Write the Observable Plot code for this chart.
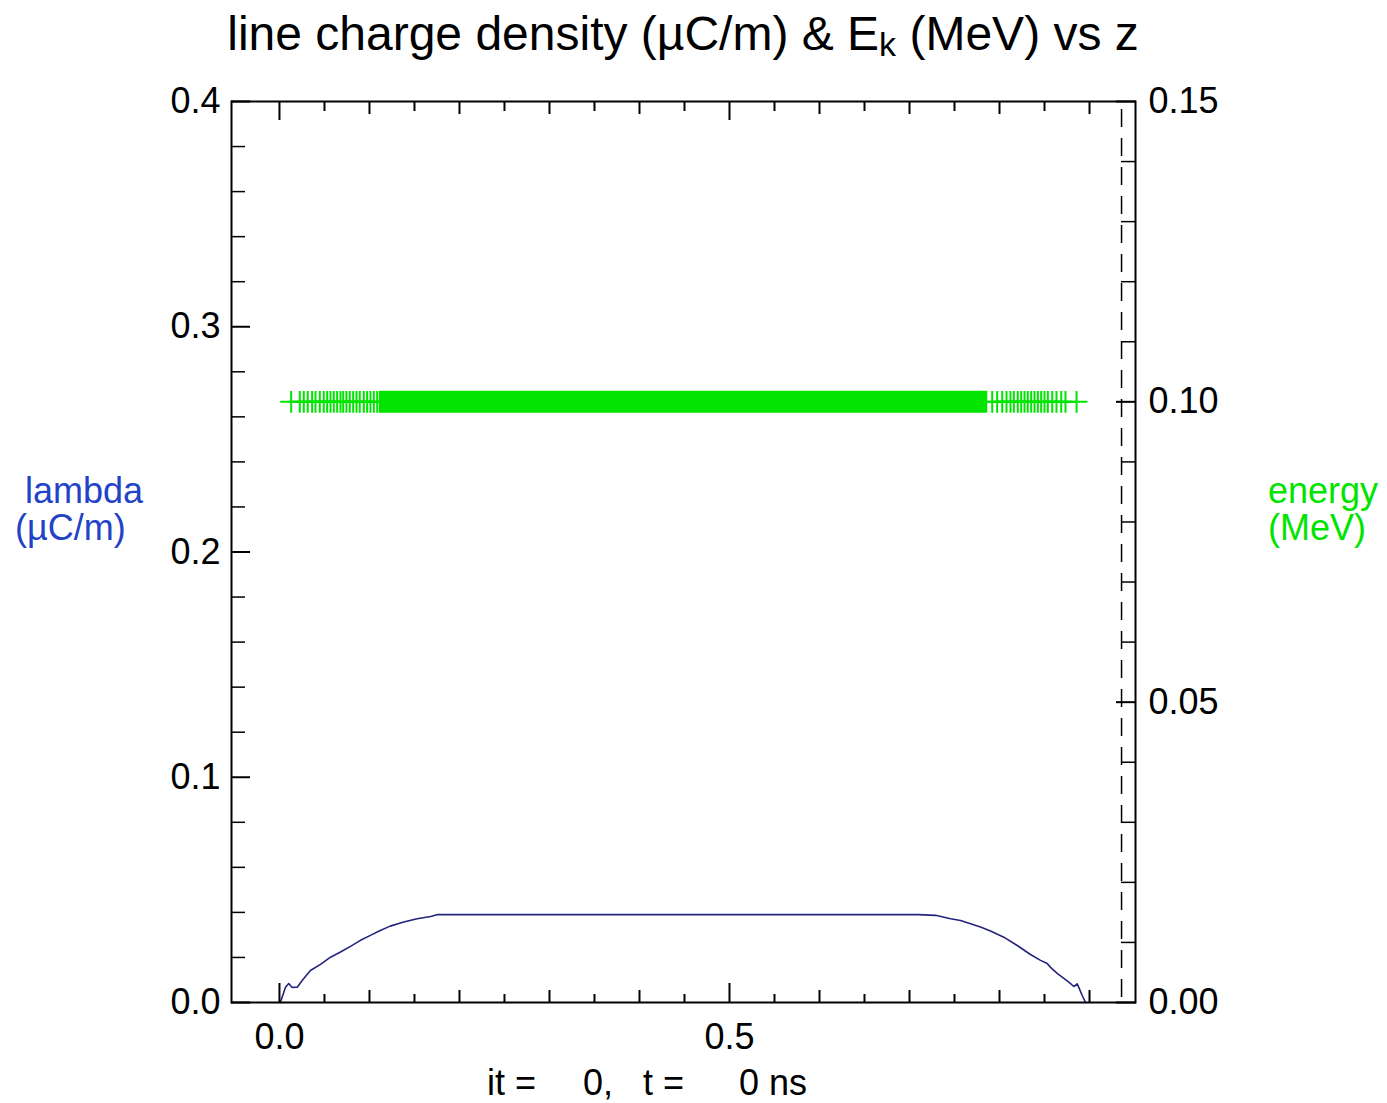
<!DOCTYPE html>
<html>
<head>
<meta charset="utf-8">
<script src="https://cdn.jsdelivr.net/npm/d3@7"></script>
<script src="https://cdn.jsdelivr.net/npm/@observablehq/plot@0.6"></script>
<style>
  html, body { margin: 0; padding: 0; background: #fff; }
  #chart { width: 1387px; height: 1103px; }
  #chart svg { overflow: visible; }
</style>
</head>
<body>
<div id="chart"></div>
<script>
// Line charge density of the beam along z (µC/m)
const lambdaZ = [0.001, 0.0067, 0.0103, 0.0141, 0.0197, 0.0252, 0.0344, 0.0456, 0.0567, 0.0678,
  0.0789, 0.090, 0.101, 0.112, 0.123, 0.138, 0.153, 0.168, 0.175, 0.71,
  0.729, 0.7456, 0.7567, 0.7789, 0.79, 0.8048, 0.8197, 0.8344, 0.8456, 0.853,
  0.8567, 0.8641, 0.8715, 0.877, 0.8826, 0.8863, 0.8881, 0.8919, 0.8956];
const lambdaVal = [0, 0.0068, 0.0084, 0.0067, 0.0068, 0.0098, 0.0142, 0.0169, 0.0201, 0.0224,
  0.0249, 0.0276, 0.0298, 0.032, 0.0339, 0.0357, 0.0372, 0.0382, 0.039, 0.039,
  0.0387, 0.0372, 0.0364, 0.0335, 0.0317, 0.029, 0.0253, 0.0213, 0.0187, 0.0173,
  0.0156, 0.0129, 0.0107, 0.009, 0.0071, 0.0083, 0.0067, 0.0031, 0];

// Macro-particle z positions in the sparse head and tail of the bunch
const particleZ = [0.0130, 0.0226, 0.0270, 0.0314, 0.0363, 0.0400, 0.0448, 0.0492, 0.0530, 0.0567,
  0.0603, 0.0641, 0.0678, 0.0708, 0.0744, 0.0781, 0.0819, 0.0856, 0.0892, 0.0937,
  0.0974, 0.1011, 0.1048, 0.1086,
  0.7919, 0.7974, 0.8030, 0.8078, 0.8122, 0.8159, 0.8203, 0.8241, 0.8278, 0.8314,
  0.8352, 0.8389, 0.8426, 0.8463, 0.8500, 0.8537, 0.8586, 0.8633, 0.8686, 0.8733, 0.8856];
// Dense core of the bunch, where the markers merge into a solid band
const coreZ = [0.111, 0.787];
// Kinetic energy of every particle (MeV)
const particleEnergy = 0.10;

const wallZ = 0.9356;
const zDomain = [-0.0533, 0.9511];
const lambdaDomain = [0, 0.4];
const energyDomain = [0, 0.15];
const lambdaTicks = [0.0, 0.1, 0.2, 0.3, 0.4];
const energyTicks = [0.00, 0.05, 0.10, 0.15];
const zTicks = [0.0, 0.5];
const stepIt = 0, stepT = 0;

// energy is drawn against the lambda scale; the right axis undoes the factor
const k = lambdaDomain[1] / energyDomain[1];

const green = "#00e400";
const navy = "#24247e";
const font = "'Liberation Sans', Arial, Helvetica, sans-serif";

const particles = particleZ.map(z => ({z, e: particleEnergy * k}));
const core = [{z1: coreZ[0], z2: coreZ[1], e: particleEnergy * k}];
const lambdaData = lambdaZ.map((z, i) => ({z, lambda: lambdaVal[i]}));

const lambdaMinor = d3.range(0, 0.4001, 0.02).filter(v => Math.abs(v * 10 - Math.round(v * 10)) > 1e-6);
const energyMinor = d3.range(0, 0.1501, 0.01).filter(v => Math.abs(v * 20 - Math.round(v * 20)) > 1e-6).map(v => v * k);
const zMedium = [0.1, 0.2, 0.3, 0.4, 0.6, 0.7, 0.8, 0.9];
const zShort = d3.range(0.05, 0.9, 0.1);

const tickAxis = (Axis, values, anchor, size, sw) =>
  Axis(values, {anchor, tickSize: -size, fill: "none", label: null, strokeWidth: sw, stroke: "#000"});

const plot = Plot.plot({
  width: 1387,
  height: 1103,
  marginLeft: 231,
  marginRight: 252,
  marginTop: 101,
  marginBottom: 101,
  style: {fontFamily: font, fontSize: "36px", color: "#000", background: "#fff"},
  x: {domain: zDomain},
  y: {domain: lambdaDomain},
  marks: [
    Plot.ruleX([wallZ], {stroke: "#000", strokeWidth: 1.5, strokeDasharray: "18,11", strokeDashoffset: -8}),
    Plot.line(lambdaData, {x: "z", y: "lambda", stroke: navy, strokeWidth: 1.6}),
    Plot.ruleY(core, {y: "e", x1: "z1", x2: "z2", stroke: green, strokeWidth: 22}),
    Plot.dot(particles, {x: "z", y: "e", symbol: "plus", r: 7.1, stroke: green, strokeWidth: 2}),
    Plot.frame({stroke: "#000", strokeWidth: 2}),
    // left axis: lambda
    Plot.axisY(lambdaTicks, {anchor: "left", tickSize: 0, tickPadding: 11, tickFormat: d3.format(".1f"), label: null, fontSize: 36}),
    tickAxis(Plot.axisY, lambdaTicks, "left", 19, 2),
    tickAxis(Plot.axisY, lambdaMinor, "left", 14, 1.5),
    // right axis: energy
    Plot.axisY(energyTicks.map(v => v * k), {anchor: "right", tickSize: 0, tickPadding: 13, tickFormat: v => (v / k).toFixed(2), label: null, fontSize: 36}),
    tickAxis(Plot.axisY, energyTicks.map(v => v * k), "right", 20, 2),
    tickAxis(Plot.axisY, energyMinor, "right", 15, 1.5),
    // bottom and top axes: z
    Plot.axisX(zTicks, {anchor: "bottom", tickSize: 0, tickPadding: 21, tickFormat: d3.format(".1f"), label: null, fontSize: 36}),
    tickAxis(Plot.axisX, zTicks, "bottom", 19, 2),
    tickAxis(Plot.axisX, zMedium, "bottom", 12, 2),
    tickAxis(Plot.axisX, zShort, "bottom", 8, 2),
    tickAxis(Plot.axisX, zTicks, "top", 18, 2),
    tickAxis(Plot.axisX, zMedium, "top", 12, 2),
    tickAxis(Plot.axisX, zShort, "top", 9, 2)
  ]
});

document.getElementById("chart").append(plot);

// Title, axis captions and step caption
const svg = d3.select(plot);
const g = svg.append("g")
  .attr("font-family", font)
  .attr("fill", "#000")
  .attr("text-anchor", "start");

const title = g.append("text").attr("x", 683).attr("y", 50).attr("text-anchor", "middle").attr("font-size", 48);
title.append("tspan").text("line charge density (µC/m) & E");
title.append("tspan").attr("font-size", 34).attr("dy", 6).text("k");
title.append("tspan").attr("dy", -6).text("\u00a0(MeV) vs z");

const blue = "#2242c8";
g.append("text").attr("x", 25).attr("y", 503).attr("font-size", 36).attr("fill", blue).text("lambda");
g.append("text").attr("x", 15).attr("y", 540).attr("font-size", 36).attr("fill", blue).text("(µC/m)");
g.append("text").attr("x", 1268).attr("y", 503).attr("font-size", 36).attr("fill", green).text("energy");
g.append("text").attr("x", 1268).attr("y", 540).attr("font-size", 36).attr("fill", green).text("(MeV)");

g.append("text").attr("x", 487).attr("y", 1095).attr("font-size", 36).text("it =");
g.append("text").attr("x", 583).attr("y", 1095).attr("font-size", 36).text(`${stepIt},`);
g.append("text").attr("x", 643).attr("y", 1095).attr("font-size", 36).text("t =");
g.append("text").attr("x", 739).attr("y", 1095).attr("font-size", 36).text(`${stepT} ns`);
</script>
</body>
</html>
